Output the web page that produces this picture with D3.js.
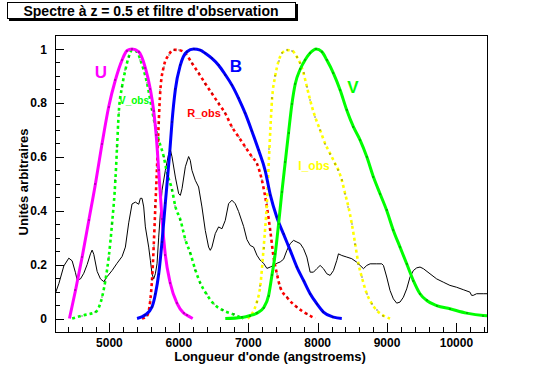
<!DOCTYPE html>
<html>
<head>
<meta charset="utf-8">
<script src="https://cdn.jsdelivr.net/npm/d3@7"></script>
<style>
  body { margin: 0; background: #fff; }
  svg text { font-family: "Liberation Sans", Arial, Helvetica, sans-serif; font-weight: bold; }
</style>
</head>
<body>
<div class="chart"></div>
<script>
// wavelength (angstrom) / value pairs
var spectrum = [
  [4216,0.09],[4271,0.129],[4343,0.195],[4415,0.224],[4463,0.214],[4511,0.17],[4535,0.143],
  [4583,0.147],[4631,0.168],[4679,0.2],[4727,0.24],[4751,0.254],[4775,0.238],[4823,0.175],
  [4871,0.147],[4918,0.137],[4966,0.155],[5038,0.178],[5110,0.205],[5182,0.23],[5230,0.265],
  [5278,0.355],[5326,0.425],[5374,0.432],[5422,0.424],[5446,0.446],[5470,0.446],[5494,0.414],
  [5518,0.34],[5566,0.265],[5590,0.216],[5614,0.166],[5638,0.147],[5662,0.166],[5686,0.203],
  [5710,0.302],[5758,0.476],[5806,0.55],[5854,0.612],[5878,0.626],[5902,0.6],[5950,0.525],
  [5998,0.463],[6022,0.457],[6046,0.482],[6094,0.563],[6141,0.601],[6165,0.587],[6189,0.55],
  [6237,0.513],[6285,0.488],[6333,0.414],[6381,0.327],[6429,0.265],[6453,0.253],[6477,0.265],
  [6525,0.315],[6573,0.34],[6621,0.333],[6669,0.364],[6717,0.426],[6765,0.439],[6813,0.426],
  [6861,0.397],[6933,0.342],[6981,0.293],[7029,0.271],[7077,0.265],[7125,0.235],[7173,0.216],
  [7221,0.205],[7269,0.186],[7317,0.191],[7365,0.197],[7413,0.205],[7461,0.21],[7509,0.22],
  [7557,0.253],[7605,0.278],[7653,0.29],[7701,0.284],[7749,0.278],[7797,0.259],[7845,0.228],
  [7892,0.172],[7940,0.172],[7988,0.185],[8036,0.197],[8084,0.185],[8132,0.166],[8180,0.16],
  [8228,0.178],[8276,0.216],[8300,0.24],[8348,0.234],[8420,0.228],[8492,0.222],[8564,0.209],
  [8612,0.197],[8660,0.185],[8708,0.197],[8756,0.203],[8852,0.203],[8924,0.203],[8948,0.197],
  [8995,0.154],[9043,0.104],[9091,0.073],[9139,0.057],[9187,0.061],[9235,0.079],[9283,0.11],
  [9331,0.154],[9379,0.178],[9427,0.188],[9475,0.191],[9523,0.185],[9619,0.166],[9715,0.147],
  [9810,0.135],[9906,0.123],[10002,0.116],[10098,0.107],[10194,0.098],[10218,0.086],
  [10242,0.086],[10290,0.092],[10386,0.092],[10460,0.092]
];

var filterU = [
  [4424,0],[4511,0.104],[4607,0.228],[4703,0.364],[4799,0.5],[4894,0.649],[4990,0.786],
  [5086,0.885],[5182,0.959],[5254,0.994],[5326,1.0],[5422,0.99],[5518,0.93],[5590,0.85],
  [5638,0.77],[5674,0.68],[5710,0.55],[5758,0.37],[5806,0.235],[5878,0.13],[5974,0.056],
  [6070,0.02],[6117,0.012],[6200,0]
];

var filterB = [
  [5398,0],[5518,0.014],[5614,0.043],[5662,0.09],[5710,0.165],[5758,0.285],[5806,0.43],
  [5840,0.53],[5870,0.62],[5902,0.73],[5950,0.85],[6022,0.94],[6117,0.99],[6213,1.0],
  [6309,0.996],[6381,0.984],[6477,0.965],[6573,0.94],[6669,0.905],[6765,0.866],[6861,0.817],
  [6957,0.761],[7053,0.695],[7149,0.625],[7245,0.548],[7317,0.46],[7413,0.375],[7509,0.313],
  [7605,0.253],[7701,0.191],[7797,0.141],[7892,0.092],[7988,0.055],[8084,0.024],[8228,0.005],
  [8348,0]
];

var filterV = [
  [6669,0],[6909,0.004],[7029,0.011],[7125,0.02],[7221,0.04],[7293,0.085],[7341,0.16],
  [7389,0.24],[7437,0.35],[7485,0.47],[7533,0.58],[7581,0.69],[7629,0.795],[7677,0.87],
  [7749,0.925],[7821,0.96],[7892,0.985],[7978,1.0],[8060,0.99],[8132,0.959],[8228,0.91],
  [8324,0.848],[8420,0.773],[8516,0.711],[8612,0.662],[8708,0.6],[8804,0.525],[8899,0.463],
  [8995,0.401],[9091,0.327],[9187,0.265],[9283,0.203],[9379,0.141],[9475,0.092],[9571,0.067],
  [9715,0.048],[9906,0.036],[10146,0.02],[10386,0.011],[10460,0.01]
];

var filterVobs = [
  [4463,0],[4607,0.011],[4799,0.024],[4894,0.079],[4942,0.141],[4990,0.228],[5038,0.352],
  [5086,0.513],[5110,0.637],[5134,0.761],[5182,0.86],[5230,0.922],[5278,0.971],[5326,0.996],
  [5398,0.99],[5446,0.96],[5542,0.873],[5614,0.774],[5662,0.712],[5710,0.663],[5782,0.601],
  [5830,0.54],[5902,0.478],[5950,0.416],[6022,0.367],[6094,0.293],[6165,0.243],[6237,0.181],
  [6309,0.132],[6400,0.09],[6500,0.055],[6640,0.03],[6790,0.015],[6930,0]
];

var filterRobs = [
  [5470,0],[5542,0.01],[5590,0.07],[5614,0.144],[5638,0.268],[5662,0.416],[5686,0.564],
  [5710,0.725],[5734,0.848],[5782,0.934],[5854,0.978],[5926,0.997],[5998,0.996],[6094,0.984],
  [6190,0.947],[6286,0.91],[6381,0.872],[6477,0.835],[6573,0.798],[6669,0.761],[6765,0.711],
  [6861,0.674],[6957,0.637],[7053,0.6],[7125,0.575],[7197,0.513],[7269,0.414],[7317,0.327],
  [7365,0.228],[7413,0.166],[7461,0.116],[7557,0.079],[7701,0.042],[7845,0.017],[7964,0]
];

var filterIobs = [
  [6990,0],[7125,0.062],[7173,0.12],[7221,0.26],[7269,0.43],[7305,0.63],[7345,0.82],
  [7389,0.9],[7437,0.955],[7485,0.984],[7557,0.996],[7629,0.994],[7701,0.971],[7749,0.947],
  [7797,0.91],[7845,0.86],[7892,0.81],[7964,0.748],[8036,0.699],[8108,0.649],[8180,0.612],
  [8252,0.575],[8300,0.55],[8348,0.513],[8396,0.463],[8444,0.414],[8492,0.352],[8540,0.278],
  [8588,0.203],[8636,0.154],[8708,0.092],[8780,0.055],[8852,0.03],[8948,0.011],[9043,0]
];

var xTicks = [5000, 6000, 7000, 8000, 9000, 10000];
var yTicks = [0, 0.2, 0.4, 0.6, 0.8, 1];

var W = 543, H = 369;
var frame = {left: 55, right: 487, top: 35, bottom: 332};

var x = d3.scaleLinear().domain([4216, 10440]).range([frame.left, frame.right]);
var y = d3.scaleLinear().domain([-0.05, 1.052]).range([frame.bottom, frame.top]);

var svg = d3.select(".chart").append("svg")
    .attr("width", W)
    .attr("height", H);

svg.append("clipPath").attr("id", "clip")
  .append("rect")
    .attr("x", frame.left).attr("y", frame.top)
    .attr("width", frame.right - frame.left)
    .attr("height", frame.bottom - frame.top);

// title box with shadow
svg.append("rect").attr("x", 9).attr("y", 4).attr("width", 289).attr("height", 17).style("fill", "#000");
svg.append("rect").attr("x", 7.5).attr("y", 2.5).attr("width", 288).attr("height", 16)
    .style("fill", "#fff").style("stroke", "#000").style("stroke-width", 1);
svg.append("text")
    .attr("x", 151).attr("y", 15.5)
    .attr("text-anchor", "middle")
    .style("font-size", "14px")
    .text("Spectre à z = 0.5 et filtre d'observation");

// frame
svg.append("rect")
    .attr("x", frame.left + 0.5).attr("y", frame.top + 0.5)
    .attr("width", frame.right - frame.left).attr("height", frame.bottom - frame.top)
    .style("fill", "none").style("stroke", "#000");

// x axis: ticks point up inside the frame
var xMinor = d3.range(4400, 10441, 200);
svg.append("g").selectAll("line")
    .data(xMinor)
  .enter().append("line")
    .attr("x1", d => Math.round(x(d)) + 0.5)
    .attr("x2", d => Math.round(x(d)) + 0.5)
    .attr("y1", frame.bottom)
    .attr("y2", d => frame.bottom - (d % 1000 === 0 ? 9 : 5))
    .style("stroke", "#000");

svg.append("g").selectAll("text")
    .data(xTicks)
  .enter().append("text")
    .attr("x", d => x(d))
    .attr("y", 347)
    .attr("text-anchor", "middle")
    .style("font-size", "12px")
    .text(d => d);

// y axis
var yMinor = d3.range(0, 21).map(i => i * 0.05);
svg.append("g").selectAll("line")
    .data(yMinor)
  .enter().append("line")
    .attr("x1", frame.left)
    .attr("x2", (d, i) => frame.left + (i % 4 === 0 ? 9 : 5))
    .attr("y1", d => Math.round(y(d)) + 0.5)
    .attr("y2", d => Math.round(y(d)) + 0.5)
    .style("stroke", "#000");

svg.append("g").selectAll("text")
    .data(yTicks)
  .enter().append("text")
    .attr("x", 47)
    .attr("y", d => y(d) + 4.5)
    .attr("text-anchor", "end")
    .style("font-size", "12px")
    .text(d => d);

// axis titles
svg.append("text")
    .attr("x", 270).attr("y", 361)
    .attr("text-anchor", "middle")
    .style("font-size", "13px")
    .text("Longueur d'onde (angstroems)");

svg.append("text")
    .attr("transform", "translate(28,182) rotate(-90)")
    .attr("text-anchor", "middle")
    .style("font-size", "13px")
    .text("Unités arbitraires");

// curves
var plot = svg.append("g").attr("clip-path", "url(#clip)");

var smooth = d3.line()
    .x(d => x(d[0]))
    .y(d => y(d[1]))
    .curve(d3.curveMonotoneX);

var rough = d3.line()
    .x(d => x(d[0]))
    .y(d => y(d[1]));

plot.append("path")
    .datum(spectrum)
    .attr("d", rough)
    .style("fill", "none").style("stroke", "#000").style("stroke-width", 1);

// tiny black markers on the data points, like the original
function markers(data) {
  plot.append("g").selectAll("rect")
      .data(data.slice(1, -1))
    .enter().append("rect")
      .attr("x", d => Math.round(x(d[0])) - 0.5)
      .attr("y", d => Math.round(y(d[1])) - 0.5)
      .attr("width", 1).attr("height", 1)
      .style("fill", "#000");
}

function solid(data, color) {
  plot.append("path")
      .datum(data)
      .attr("d", smooth)
      .style("fill", "none").style("stroke", color).style("stroke-width", 3);
  markers(data);
}

function dashdot(data, color) {
  plot.append("path")
      .datum(data)
      .attr("d", smooth)
      .style("fill", "none").style("stroke", color).style("stroke-width", 2.6)
      .style("stroke-dasharray", "3 3");
  markers(data);
}

dashdot(filterVobs, "#00ff00");
dashdot(filterRobs, "#ff0000");
dashdot(filterIobs, "#ffff00");
solid(filterU, "#ff00ff");
solid(filterB, "#0000ff");
solid(filterV, "#00ff00");

// curve labels
var labels = [
  {t: "U", x: 101, y: 78, c: "#ff00ff", s: 17},
  {t: "B", x: 236, y: 72, c: "#0000ff", s: 17},
  {t: "V", x: 353, y: 93, c: "#00ff00", s: 17},
  {t: "V_obs", x: 134, y: 104, c: "#00ff00", s: 10},
  {t: "R_obs", x: 204, y: 117, c: "#ff0000", s: 11},
  {t: "I_obs", x: 314, y: 170, c: "#ffff00", s: 12}
];
svg.append("g").selectAll("text")
    .data(labels)
  .enter().append("text")
    .attr("x", d => d.x).attr("y", d => d.y)
    .attr("text-anchor", "middle")
    .style("font-size", d => d.s + "px")
    .style("fill", d => d.c)
    .text(d => d.t);
</script>
</body>
</html>
